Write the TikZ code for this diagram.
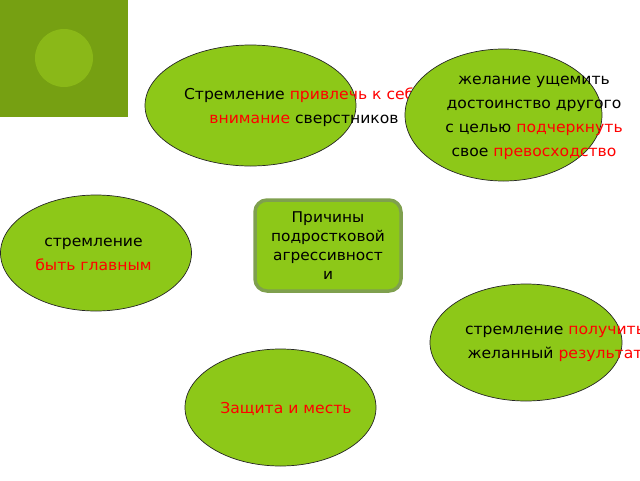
\documentclass[tikz,border=0pt]{standalone}
\usepackage{fontspec}
\usetikzlibrary{shapes.geometric}
\newfontfamily\tf[FakeStretch=1.04]{DejaVu Sans}
\definecolor{sqgreen}{RGB}{118,160,18}
\definecolor{circgreen}{RGB}{138,184,24}
\definecolor{elgreen}{RGB}{141,200,24}
\definecolor{boxborder}{RGB}{127,160,78}
\definecolor{txtred}{RGB}{255,0,0}
\tikzset{
  blob/.style={ellipse, draw=black!85, line width=0.7pt, fill=elgreen, inner sep=0pt},
  etext/.style={align=center, font=\tf\fontsize{15}{24}\selectfont, inner sep=0pt},
  centerbox/.style={rounded corners=12pt, draw=boxborder, line width=3.5pt, fill=elgreen,
    minimum width=146pt, minimum height=91pt, align=center, inner sep=0pt,
    font=\tf\fontsize{14.8}{19}\selectfont},
}
\newcommand{\rd}[1]{\textcolor{txtred}{#1}}
\begin{document}
\begin{tikzpicture}[x=1pt,y=-1pt]
\useasboundingbox (0,0) rectangle (640,480);
% decorative corner square
\fill[sqgreen] (0,0) rectangle (128,117);
\fill[circgreen] (64,58) circle[radius=29];
% ellipse 1
\node[blob, minimum width=211pt, minimum height=121pt] (e1) at (250.5,105.5) {};
\node[etext] (t1) at (304,107) {Стремление \rd{привлечь к себе}\\\rd{внимание} сверстников};
% ellipse 2
\node[blob, minimum width=197pt, minimum height=132pt] (e2) at (503.5,115) {};
\node[etext] (t2) at (534,117.5) {желание ущемить\\достоинство другого\\с целью \rd{подчеркнуть}\\свое \rd{превосходство}};
% ellipse 3
\node[blob, minimum width=191pt, minimum height=116pt] (e3) at (96,253) {};
\node[etext] (t3) at (93.5,254.5) {стремление\\\rd{быть главным}};
% central box
\node[centerbox] (c) at (328,245.5) {Причины\\подростковой\\агрессивност\\и};
% ellipse 4
\node[blob, minimum width=192pt, minimum height=117pt] (e4) at (526,342.5) {};
\node[etext] (t4) at (555,344) {стремление \rd{получить}\\желанный \rd{результат}};
% ellipse 5
\node[blob, minimum width=191pt, minimum height=117pt] (e5) at (280.5,407.5) {};
\node[etext] (t5) at (286,409) {\rd{Защита и месть}};
\end{tikzpicture}
\end{document}
